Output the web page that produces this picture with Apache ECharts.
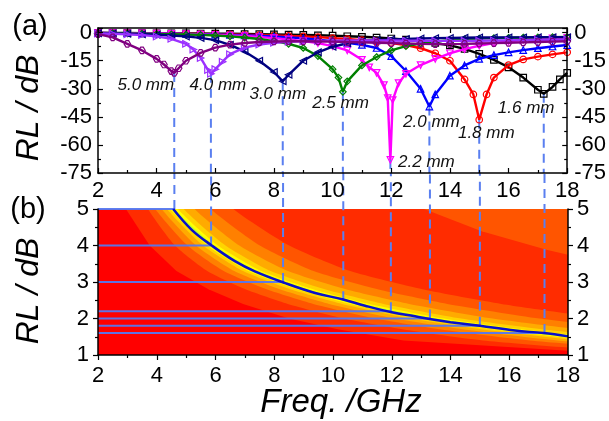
<!DOCTYPE html>
<html><head><meta charset="utf-8">
<script src="https://cdn.jsdelivr.net/npm/echarts@6/dist/echarts.min.js"></script>
<style>html,body{margin:0;padding:0;background:#fff}#c{width:609px;height:421px}</style>
</head><body><div id="c"></div>
<script>
// ================= DATA =================
const thicknessLabels = ['1.6 mm','1.8 mm','2.0 mm','2.2 mm','2.5 mm','3.0 mm','4.0 mm','5.0 mm'];
const thickness = [1.6, 1.8, 2.0, 2.2, 2.5, 3.0, 4.0, 5.0];
const seriesColors = ['#000000','#ff0000','#0000ff','#ff00ff','#008000','#000080','#9b30ff','#800080'];

// (a) RL curves, frequency (GHz) and RL (dB)
const f16 = [2,2.5,3,3.5,4,4.5,5,5.5,6,6.5,7,7.5,8,8.5,9,9.5,10,10.5,11,11.5,12,12.5,13,13.5,14,14.5,15,15.5,16,16.5,17,17.2,17.5,17.75,18];
const rl16 = [-0.1,-0.15,-0.2,-0.25,-0.3,-0.35,-0.4,-0.45,-0.5,-0.6,-0.7,-0.8,-0.9,-1.05,-1.2,-1.4,-1.6,-1.9,-2.2,-2.6,-3.1,-3.7,-4.5,-5.5,-6.8,-8.7,-11.3,-14.5,-18.5,-24,-30.5,-32.7,-29,-25,-21.5];

const f18 = [2,2.5,3,3.5,4,4.5,5,5.5,6,6.5,7,7.5,8,8.5,9,9.5,10,10.5,11,11.5,12,12.5,13,13.5,14,14.5,14.8,15,15.25,15.5,16,16.5,17,17.5,18];
const rl18 = [-0.2,-0.25,-0.3,-0.35,-0.4,-0.5,-0.6,-0.7,-0.8,-0.95,-1.1,-1.3,-1.5,-1.75,-2.0,-2.4,-2.9,-3.4,-4.0,-4.7,-5.5,-6.6,-8.3,-11,-15,-25,-33,-46.5,-33,-24,-17.3,-14.3,-12.8,-11.6,-10.5];

const f20 = [2,2.5,3,3.5,4,4.5,5,5.5,6,6.5,7,7.5,8,8.5,9,9.5,10,10.5,11,11.5,12,12.5,13,13.3,13.5,14,14.5,15,15.5,16,16.5,17,17.5,18];
const rl20 = [-0.2,-0.25,-0.3,-0.4,-0.5,-0.6,-0.7,-0.85,-1.0,-1.2,-1.4,-1.7,-2.0,-2.5,-3.0,-3.7,-4.5,-5.4,-6.5,-8.2,-12.5,-20.5,-30,-39.5,-33,-23,-17.5,-14,-12,-10.5,-9.3,-8.3,-7.4,-6.6];

const f22 = [2,2.5,3,3.5,4,4.5,5,5.5,6,6.5,7,7.5,8,8.5,9,9.5,10,10.5,11,11.25,11.5,11.75,11.88,11.97,12.05,12.25,12.5,13,13.5,14,14.5,15,15.5,16,16.5,17,17.5,18];
const rl22 = [-0.2,-0.25,-0.3,-0.4,-0.5,-0.6,-0.8,-1.0,-1.2,-1.5,-1.8,-2.3,-2.9,-3.6,-4.5,-5.6,-7.2,-9.5,-14.5,-18.5,-21.5,-28,-35,-68,-36,-27,-22,-17.3,-14,-11,-8.8,-7,-5.6,-4.6,-3.9,-3.4,-3.0,-2.7];

const f25 = [2,2.5,3,3.5,4,4.5,5,5.5,6,6.5,7,7.5,8,8.5,9,9.5,10,10.2,10.35,10.5,11,11.5,12,12.5,13,13.5,14,14.5,15,15.5,16,16.5,17,17.5,18];
const rl25 = [-0.2,-0.25,-0.4,-0.5,-0.7,-0.85,-1.0,-1.2,-1.5,-2.0,-2.6,-3.4,-4.5,-6.0,-8.2,-12.5,-19.5,-24,-31.6,-26,-17.5,-13,-9.5,-7.2,-5.8,-4.7,-4.0,-3.5,-3.1,-2.9,-2.7,-2.6,-2.5,-2.4,-2.3];

const f30 = [2,2.5,3,3.5,4,4.5,5,5.5,6,6.5,7,7.5,8,8.3,8.5,9,9.5,10,10.5,11,11.5,12,12.5,13,13.5,14,14.5,15,15.5,16,16.5,17,17.5,18];
const rl30 = [-0.3,-0.4,-0.6,-0.8,-1.1,-1.5,-2.0,-2.8,-4.0,-6.5,-10,-15,-21,-26,-22.5,-15,-10.5,-7.5,-5.7,-4.6,-4.0,-3.6,-3.3,-3.1,-2.9,-2.8,-2.7,-2.6,-2.6,-2.5,-2.5,-2.4,-2.4,-2.4];

const f40 = [2,2.5,3,3.5,4,4.5,5,5.25,5.5,5.75,5.85,6,6.25,6.5,7,7.5,8,8.5,9,9.5,10,10.5,11,11.5,12,12.5,13,13.5,14,14.5,15,15.5,16,16.5,17,17.5,18];
const rl40 = [-0.4,-0.6,-0.9,-1.3,-2.0,-3.3,-6.0,-9,-13.5,-20,-22,-19.5,-15.5,-11.5,-8,-6.3,-5.4,-4.9,-4.6,-4.4,-4.3,-4.2,-4.2,-4.2,-4.2,-4.3,-4.3,-4.4,-4.4,-4.4,-4.3,-4.2,-4.1,-4.0,-3.9,-3.8,-3.7];

const f50 = [2,2.5,3,3.5,4,4.25,4.5,4.6,4.75,5,5.5,6,6.5,7,7.5,8,8.5,9,9.5,10,10.5,11,11.5,12,12.5,13,13.5,14,14.5,15,15.5,16,16.5,17,17.5,18];
const rl50 = [-0.8,-2.5,-6,-9.5,-14,-17,-20.5,-21.5,-19,-15,-10.8,-8,-6.4,-5.5,-5.0,-4.7,-4.6,-4.6,-4.7,-4.8,-5.0,-5.2,-5.4,-5.6,-5.8,-6.0,-6.1,-6.1,-6.0,-5.8,-5.6,-5.4,-5.2,-5.0,-4.8,-4.6];

const curveFreqs = [f16, f18, f20, f22, f25, f30, f40, f50];
const curveRLs = [rl16, rl18, rl20, rl22, rl25, rl30, rl40, rl50];

// absorption peaks (dashed guide lines)
const peakFreq = [17.2, 15.0, 13.3, 11.97, 10.35, 8.3, 5.85, 4.6];
const peakRL = [-32.7, -46.5, -39.5, -68, -31.6, -26, -22, -21.5];

// label anchors for the thickness captions in (a)
const labelFreq = [16.6, 15.24, 13.37, 13.2, 10.27, 8.13, 6.09, 3.63];
const labelRL = [-40.6, -53.9, -48, -69.4, -37.9, -33.1, -28.3, -28.3];

// (b) horizontal thickness markers
const hLineThk = [5.0, 4.0, 3.0, 2.2, 2.0, 1.8, 1.6];
const hLineFreq = [4.6, 5.85, 8.3, 11.97, 13.3, 15.0, 17.2];

// (b) matching-thickness curve
const matchFreq = [4.56, 5.19, 5.87, 6.66, 7.34, 8.37, 9.39, 10.35, 11.09, 12.0, 12.79, 13.4, 14.0, 15.0, 16.2, 17.16, 18.0];
const matchThk = [5.0, 4.43, 4.0, 3.57, 3.29, 2.97, 2.70, 2.52, 2.35, 2.17, 2.06, 1.97, 1.90, 1.80, 1.67, 1.60, 1.51];

// (b) contour band boundaries: frequency at each thickness sample
const bandThk = [6, 5, 4, 3.3, 2.8, 2.4, 2.0, 1.7, 1.4, 1.1, 0.8];
const L1 = [2.43, 2.95, 3.76, 4.67, 5.76, 6.94, 8.5, 10.2, 12.4, 18.3, 25];
const L2 = [3.08, 3.7, 4.62, 5.72, 7.02, 8.46, 10.37, 12.4, 15.1, 19.8, 26.5];
const L3 = [3.27, 3.95, 5.05, 6.28, 7.74, 9.33, 11.44, 13.67, 16.7, 21.5, 29.2];
const L4 = [3.46, 4.17, 5.34, 6.64, 8.19, 9.87, 12.1, 14.47, 17.65, 22.75, 30.9];
const L5 = [3.61, 4.35, 5.58, 6.94, 8.55, 10.31, 12.64, 15.1, 18.43, 23.75, 32.3];
const L6 = [3.71, 4.46, 5.72, 7.12, 8.78, 10.58, 12.97, 15.5, 18.9, 24.4, 33.2];
const L7 = [3.76, 4.51, 5.81, 7.23, 8.91, 10.74, 13.17, 15.74, 19.2, 24.75, 33.7];
const U7 = [3.85, 4.61, 5.94, 7.39, 9.11, 10.98, 13.46, 16.09, 19.63, 25.3, 34.4];
const U6 = [3.93, 4.72, 6.08, 7.56, 9.32, 11.23, 13.77, 16.46, 20.08, 25.9, 35.2];
const U5 = [4.10, 4.92, 6.34, 7.88, 9.72, 11.72, 14.36, 17.17, 20.95, 27, 36.7];
const U4 = [4.41, 5.29, 6.81, 8.47, 10.44, 12.59, 15.43, 18.44, 22.5, 29, 39.4];
const U3 = [4.86, 5.84, 7.51, 9.34, 11.52, 13.89, 17.02, 20.35, 24.8, 32, 43.5];
const U2 = [5.51, 6.61, 8.51, 10.59, 13.05, 15.73, 19.29, 23.06, 28.1, 36.3, 49.3];
// upper-right corner region (rising again)
const cornerFreq = [11.5, 13.1, 15.06, 17.3, 18, 19, 19, 11.5];
const cornerThk = [5.6, 5.0, 4.39, 3.88, 3.75, 3.6, 6.5, 6.5];

const levelColors = ['#ff0000','#ff2c00','#ff5500','#ff8000','#ffaa00','#ffd400','#ffff00','#b8ff30'];

// ================= BUILD =================
function pairs(xs, ys) { return xs.map((x, i) => [x, ys[i]]); }
function band(lo, hi) {
  const a = lo.map((f, i) => [f, bandThk[i]]);
  const b = hi.map((f, i) => [f, bandThk[i]]).reverse();
  return a.concat(b);
}
const polys = [
  { pts: L1.map((f, i) => [f, bandThk[i]]).concat([[80, 0.8], [80, 6]]), color: levelColors[1], smooth: 0 },
  { pts: pairs(cornerFreq, cornerThk), color: levelColors[2], smooth: 0 },
  { pts: band(L2, U2), color: levelColors[2], smooth: 0.2 },
  { pts: band(L3, U3), color: levelColors[3], smooth: 0.2 },
  { pts: band(L4, U4), color: levelColors[4], smooth: 0.2 },
  { pts: band(L5, U5), color: levelColors[5], smooth: 0.2 },
  { pts: band(L6, U6), color: levelColors[6], smooth: 0.2 },
  { pts: band(L7, U7), color: levelColors[7], smooth: 0.2 }
];

const symbols = ['rect', 'circle', 'triangle', 'path://M0,0L10,0L5,9Z', 'diamond',
  'path://M10,0L10,10L0,5Z', 'path://M0,0L10,5L0,10Z', 'path://M3,0L7,0L10,5L7,10L3,10L0,5Z'];

const FONT = 'Liberation Sans';
const dashColor = '#5a7ff0';

function axisBase(extra) {
  return Object.assign({
    type: 'value', z: 10,
    axisLine: { show: true, onZero: false, lineStyle: { color: '#000', width: 1.5 } },
    splitLine: { show: false },
    axisLabel: { fontFamily: FONT, fontSize: 22, color: '#000' }
  }, extra);
}

const series = [];
// contour
series.push({
  type: 'custom', xAxisIndex: 2, yAxisIndex: 2, z: 1, clip: true, silent: true,
  data: polys.map(() => [10, 3]),
  renderItem: function (params, api) {
    const p = polys[params.dataIndex];
    const cs = params.coordSys;
    return {
      type: 'polygon',
      shape: { points: p.pts.map(pt => api.coord(pt)), smooth: p.smooth },
      style: { fill: p.color, stroke: null },
      clipPath: { type: 'rect', shape: { x: cs.x, y: cs.y, width: cs.width, height: cs.height } }
    };
  }
});
// RL curves
curveFreqs.forEach((fs, k) => {
  const c = seriesColors[k];
  series.push({
    type: 'line', xAxisIndex: 0, yAxisIndex: 0, z: 3 + k * 0.01,
    data: pairs(fs, curveRLs[k]),
    symbol: symbols[k], symbolSize: 6.5, showAllSymbol: true,
    lineStyle: { color: c, width: 2.4 },
    itemStyle: { color: 'rgba(255,255,255,0)', borderColor: c, borderWidth: 1.2 }
  });
});
// dashed guides in (a)
peakFreq.forEach((f, k) => {
  series.push({
    type: 'line', xAxisIndex: 0, yAxisIndex: 0, z: 2, symbol: 'none',
    data: [[f, peakRL[k]], [f, -75]],
    lineStyle: { color: dashColor, width: 2, type: [9, 6] }
  });
});
// dashed guides in (b), continuing upward across the gap
peakFreq.forEach((f, k) => {
  series.push({
    type: 'line', xAxisIndex: 2, yAxisIndex: 2, z: 5, symbol: 'none', clip: false,
    data: [[f, thickness[k]], [f, 5.99]],
    lineStyle: { color: dashColor, width: 2, type: [9, 6] }
  });
});
// horizontal thickness markers
hLineThk.forEach((t, k) => {
  series.push({
    type: 'line', xAxisIndex: 2, yAxisIndex: 2, z: 5, symbol: 'none',
    data: [[2, t], [hLineFreq[k], t]],
    lineStyle: { color: 'rgba(85,120,240,0.95)', width: 2 }
  });
});
// matching curve
series.push({
  type: 'line', xAxisIndex: 2, yAxisIndex: 2, z: 6, symbol: 'none', smooth: 0.4,
  data: pairs(matchFreq, matchThk),
  lineStyle: { color: '#0a10c8', width: 2.5 }
});
// captions
series.push({
  type: 'scatter', xAxisIndex: 0, yAxisIndex: 0, z: 8, symbolSize: 1,
  itemStyle: { color: 'rgba(0,0,0,0)', opacity: 1 },
  data: labelFreq.map((f, k) => ({ value: [f, labelRL[k]], name: thicknessLabels[k] })),
  label: { show: true, position: 'inside', formatter: '{b}', fontFamily: FONT, fontSize: 17,
           fontStyle: 'italic', color: '#111', opacity: 1 }
});

const option = {
  animation: false,
  backgroundColor: '#ffffff',
  grid: [
    { left: 98, top: 28, width: 470, height: 145, show: false },
    { left: 98, top: 209, width: 470, height: 146, show: true, backgroundColor: levelColors[0], borderWidth: 0 }
  ],
  xAxis: [
    axisBase({ gridIndex: 0, position: 'bottom', min: 2, max: 18, interval: 2,
      axisTick: { inside: true, length: 5, lineStyle: { color: '#000', width: 1.2 } },
      minorTick: { show: true, splitNumber: 2, length: 3, lineStyle: { color: '#000', width: 1.2 } },
      axisLabel: { fontFamily: FONT, fontSize: 22, color: '#000', margin: 7 } }),
    axisBase({ gridIndex: 0, position: 'top', min: 2, max: 18, interval: 2,
      axisTick: { inside: true, length: 5, lineStyle: { color: '#000', width: 1.2 } },
      minorTick: { show: true, splitNumber: 2, length: 3, lineStyle: { color: '#000', width: 1.2 } },
      axisLabel: { show: false } }),
    axisBase({ gridIndex: 1, position: 'bottom', min: 2, max: 18, interval: 2,
      axisTick: { inside: false, length: 5, lineStyle: { color: '#000', width: 1.2 } },
      minorTick: { show: true, splitNumber: 2, length: 3, lineStyle: { color: '#000', width: 1.2 } },
      axisLabel: { fontFamily: FONT, fontSize: 22, color: '#000', margin: 10 } })
  ],
  yAxis: [
    axisBase({ gridIndex: 0, position: 'left', min: -75, max: 2.5, interval: 15,
      axisTick: { inside: true, length: 5, lineStyle: { color: '#000', width: 1.2 } },
      minorTick: { show: true, splitNumber: 2, length: 3, lineStyle: { color: '#000', width: 1.2 } },
      axisLabel: { fontFamily: FONT, fontSize: 22, color: '#000', margin: 6, showMaxLabel: false } }),
    axisBase({ gridIndex: 0, position: 'right', min: -75, max: 2.5, interval: 15,
      axisTick: { inside: true, length: 5, lineStyle: { color: '#000', width: 1.2 } },
      minorTick: { show: true, splitNumber: 2, length: 3, lineStyle: { color: '#000', width: 1.2 } },
      axisLabel: { fontFamily: FONT, fontSize: 22, color: '#000', margin: 7, showMaxLabel: false } }),
    axisBase({ gridIndex: 1, position: 'left', min: 1, max: 5, interval: 1,
      axisTick: { inside: false, length: 5, lineStyle: { color: '#000', width: 1.2 } },
      minorTick: { show: true, splitNumber: 2, length: 3, lineStyle: { color: '#000', width: 1.2 } },
      axisLabel: { fontFamily: FONT, fontSize: 22, color: '#000', margin: 9 } }),
    axisBase({ gridIndex: 1, position: 'right', min: 1, max: 5, interval: 1,
      axisTick: { inside: false, length: 5, lineStyle: { color: '#000', width: 1.2 } },
      minorTick: { show: true, splitNumber: 2, length: 3, lineStyle: { color: '#000', width: 1.2 } },
      axisLabel: { fontFamily: FONT, fontSize: 22, color: '#000', margin: 9 } })
  ],
  graphic: [
    { type: 'text', x: 30, y: 27, style: { text: '(a)', fontFamily: FONT, fontSize: 29, fill: '#000',
      textAlign: 'center', textVerticalAlign: 'middle', align: 'center', verticalAlign: 'middle' } },
    { type: 'text', x: 28, y: 210, style: { text: '(b)', fontFamily: FONT, fontSize: 29, fill: '#000',
      textAlign: 'center', textVerticalAlign: 'middle', align: 'center', verticalAlign: 'middle' } },
    { type: 'text', x: 29, y: 108, rotation: Math.PI / 2, style: { text: 'RL / dB', fontFamily: FONT, fontSize: 32,
      fontStyle: 'italic', fill: '#000', textAlign: 'center', textVerticalAlign: 'middle', align: 'center', verticalAlign: 'middle' } },
    { type: 'text', x: 29, y: 291, rotation: Math.PI / 2, style: { text: 'RL / dB', fontFamily: FONT, fontSize: 32,
      fontStyle: 'italic', fill: '#000', textAlign: 'center', textVerticalAlign: 'middle', align: 'center', verticalAlign: 'middle' } },
    { type: 'text', x: 341, y: 403, style: { text: 'Freq. /GHz', fontFamily: FONT, fontSize: 33,
      fontStyle: 'italic', fill: '#000', textAlign: 'center', textVerticalAlign: 'middle', align: 'center', verticalAlign: 'middle' } }
  ],
  series: series
};

const chart = echarts.init(document.getElementById('c'), null, { renderer: 'canvas' });
chart.setOption(option);
</script>
</body></html>
